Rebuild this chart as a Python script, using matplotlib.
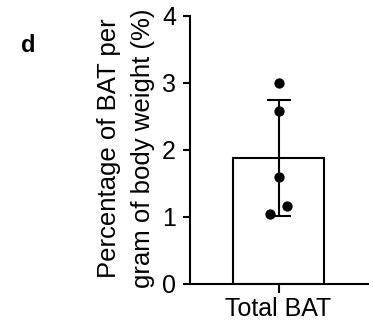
import numpy as np
import matplotlib.pyplot as plt

plt.rcParams['font.family'] = ['Liberation Sans', 'DejaVu Sans']

# 数据
categories = ['Total BAT']
points = [2.99, 2.58, 1.60, 1.17, 1.04]
jitter = [0.0, 0.0, 0.0, 0.09, -0.09]

mean = np.mean(points)
sd = np.std(points, ddof=1)

fig = plt.figure(figsize=(3.73, 3.27), dpi=100)
ax = fig.add_axes([0.509, 0.1315, 0.478, 0.8205])

ax.bar([0], [mean], width=1.0, color='white', edgecolor='black', linewidth=1.5, zorder=1)
ax.errorbar([0], [mean], yerr=sd, fmt='none', ecolor='black',
            elinewidth=1.5, capsize=8.3, capthick=1.5, zorder=2)
ax.scatter(jitter, points, s=55, color='black', zorder=3, linewidths=0)

ax.set_xlim(-0.97, 0.98)
ax.set_ylim(0, 4)
ax.set_yticks([0, 1, 2, 3, 4])
ax.set_xticks([0])
ax.set_xticklabels(categories)
ax.spines['top'].set_visible(False)
ax.spines['right'].set_visible(False)
ax.spines['left'].set_linewidth(1.5)
ax.spines['bottom'].set_linewidth(1.5)
ax.tick_params(axis='y', length=5, width=1.5, labelsize=18, pad=5)
ax.tick_params(axis='x', length=6.5, width=1.5, labelsize=18, pad=3)
ax.set_ylabel('Percentage of BAT per\ngram of body weight (%)', fontsize=18.5, labelpad=5, linespacing=1.55)
ax.yaxis.label.set_y(0.507)

fig.text(0.056, 0.841, 'd', fontsize=17, fontweight='bold', va='baseline')

plt.savefig('out.png', dpi=100)
